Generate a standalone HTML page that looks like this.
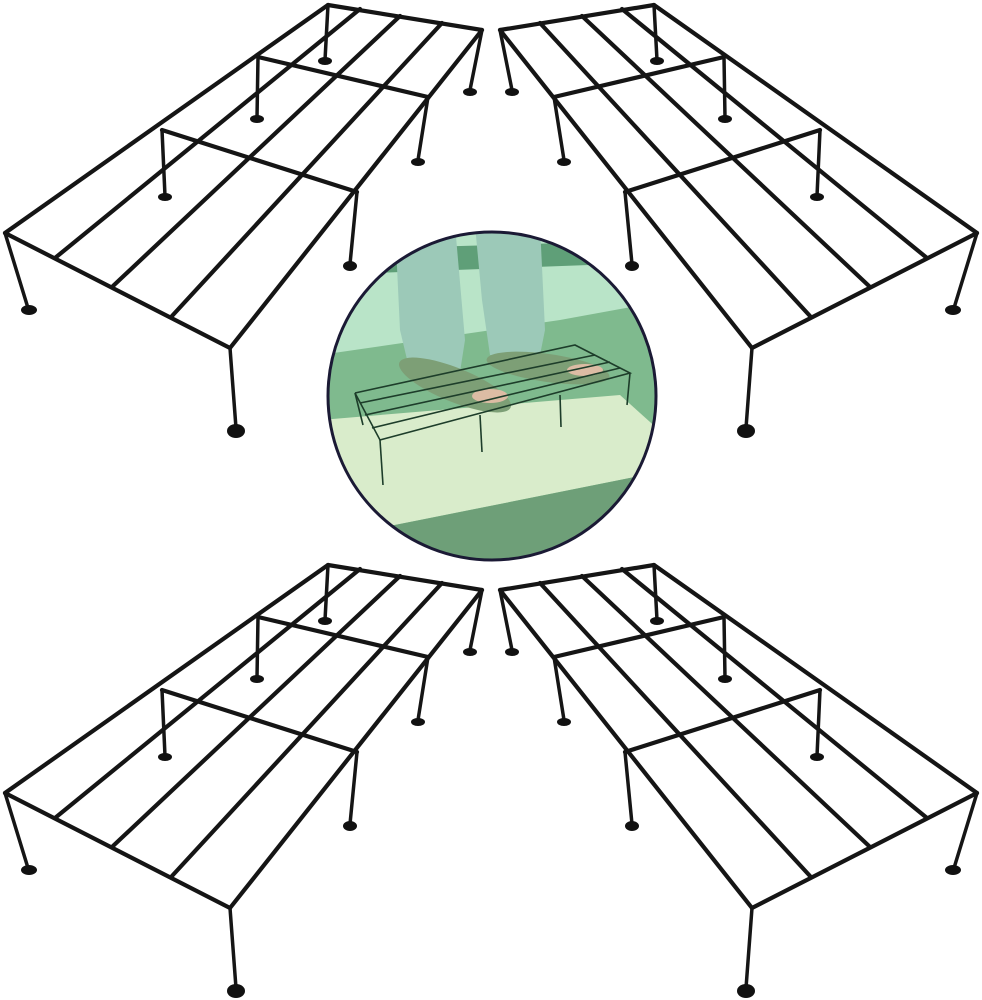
<!DOCTYPE html>
<html><head><meta charset="utf-8"><style>html,body{margin:0;padding:0;background:#fff}svg{display:block}</style></head>
<body>
<svg width="982" height="1000" viewBox="0 0 982 1000" xmlns="http://www.w3.org/2000/svg">
<defs>
<g id="rack" stroke="#151515" fill="none" stroke-linecap="round">
  <g stroke-width="4.2">
  <line x1="328" y1="5" x2="482" y2="30"/>
  <line x1="328" y1="5" x2="5" y2="233"/>
  <line x1="482" y1="30" x2="230" y2="348"/>
  <line x1="5" y1="233" x2="230" y2="348"/>
  <line x1="360" y1="9" x2="55" y2="258"/>
  <line x1="400" y1="16" x2="113" y2="286"/>
  <line x1="442" y1="23" x2="172" y2="316"/>
  <line x1="258" y1="57" x2="428" y2="97"/>
  <line x1="162" y1="130" x2="357" y2="192"/>
  </g>
  <g stroke-width="3.5">
  <line x1="328" y1="5" x2="325" y2="60"/>
  <line x1="258" y1="57" x2="257" y2="118"/>
  <line x1="162" y1="130" x2="165" y2="196"/>
  <line x1="5" y1="233" x2="28" y2="308"/>
  <line x1="230" y1="348" x2="236" y2="428"/>
  <line x1="357" y1="192" x2="350" y2="264"/>
  <line x1="428" y1="97" x2="418" y2="160"/>
  <line x1="482" y1="30" x2="470" y2="90"/>
  </g>
  <g fill="#111" stroke="none">
  <ellipse cx="325" cy="61" rx="7" ry="4"/>
  <ellipse cx="257" cy="119" rx="7" ry="4"/>
  <ellipse cx="165" cy="197" rx="7" ry="4"/>
  <ellipse cx="29" cy="310" rx="8" ry="5"/>
  <ellipse cx="236" cy="431" rx="9" ry="7"/>
  <ellipse cx="350" cy="266" rx="7" ry="5"/>
  <ellipse cx="418" cy="162" rx="7" ry="4"/>
  <ellipse cx="470" cy="92" rx="7" ry="4"/>
  </g>
</g>
<clipPath id="cc"><circle cx="492" cy="396" r="164"/></clipPath>
</defs>
<use href="#rack"/>
<use href="#rack" transform="translate(982,0) scale(-1,1)"/>
<use href="#rack" transform="translate(0,560)"/>
<use href="#rack" transform="translate(982,560) scale(-1,1)"/>

<g clip-path="url(#cc)">
  <rect x="320" y="225" width="350" height="340" fill="#7fba8e"/>
  <polygon points="320,225 670,225 670,300 560,320 320,355" fill="#b9e4c8"/>
  <polygon points="320,250 670,240 670,262 320,275" fill="#5f9f78"/>
  <polygon points="320,420 620,395 670,440 670,470 420,520 320,540" fill="#d9eccb"/>
  <polygon points="320,540 420,520 670,470 670,565 320,565" fill="#6e9f78"/>
  <!-- legs -->
  <polygon points="395,225 455,225 465,340 460,372 410,372 400,330" fill="#9cc9b8"/>
  <polygon points="475,225 540,225 545,330 540,355 490,355 482,300" fill="#9cc9b8"/>
  <!-- sandals -->
  <ellipse cx="455" cy="385" rx="60" ry="17" fill="#7d9f76" transform="rotate(22 455 385)"/>
  <ellipse cx="548" cy="368" rx="62" ry="14" fill="#7d9f76" transform="rotate(8 548 368)"/>
  <ellipse cx="490" cy="396" rx="18" ry="7" fill="#dcbca4"/>
  <ellipse cx="585" cy="370" rx="18" ry="6" fill="#dcbca4"/>
  <!-- small rack -->
  <g stroke="#1d3d2a" stroke-width="1.6" fill="none">
    <polyline points="355,393 575,345 630,373 380,440 355,393"/>
    <line x1="360" y1="403" x2="595" y2="355"/>
    <line x1="365" y1="415" x2="610" y2="362"/>
    <line x1="372" y1="428" x2="620" y2="368"/>
    <line x1="355" y1="393" x2="363" y2="425"/>
    <line x1="380" y1="440" x2="383" y2="485"/>
    <line x1="480" y1="415" x2="482" y2="452"/>
    <line x1="560" y1="395" x2="561" y2="427"/>
    <line x1="630" y1="373" x2="627" y2="405"/>
  </g>
</g>
<circle cx="492" cy="396" r="164" fill="none" stroke="#1b1a35" stroke-width="3"/>
</svg>
</body></html>
